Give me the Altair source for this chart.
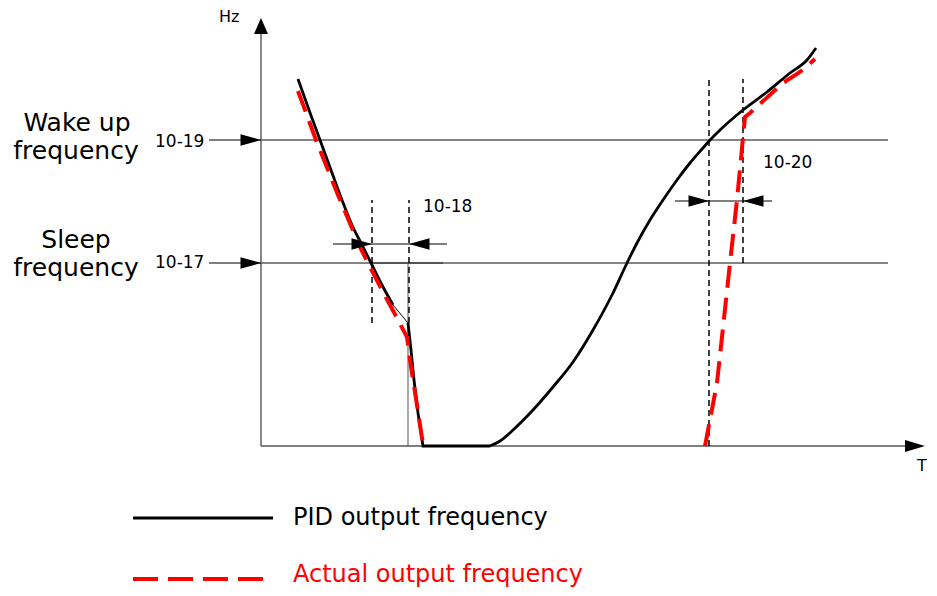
import altair as alt
import pandas as pd

# coordinate system: T along the time axis, Hz along the frequency axis (origin at axis crossing)
# PID output frequency (black)
pid_a_T = [37, 48, 59, 70, 81, 91, 101, 110, 121, 132]
pid_a_Hz = [367, 336, 306, 276, 246, 221, 201, 183, 161, 141]
pid_b_T = [132, 147]
pid_b_Hz = [141, 123]
pid_c_T = [147, 150, 153, 157, 162, 229]
pid_c_Hz = [123, 96, 66, 33, 0, 0]
pid_d_T = [229, 239, 252, 272, 292, 312, 332, 352, 366, 376, 389, 402, 416, 429, 442, 449, 459, 482, 506, 529, 546, 555]
pid_d_Hz = [0, 5, 16, 36, 59, 84, 116, 153, 183, 203, 226, 246, 266, 283, 298, 306, 316, 336, 354, 373, 386, 398]

# Actual output frequency (red dashed)
act_l_T = [37, 55, 77, 99, 107, 122, 136, 146, 150, 156, 161, 163]
act_l_Hz = [355, 306, 251, 199, 183, 154, 128, 109, 79, 41, 8, 0]
act_r_T = [444, 456, 469, 476, 484, 489, 522, 539, 554]
act_r_Hz = [0, 63, 183, 246, 329, 333, 363, 374, 387]

# levels
wake_hz = 306
sleep_hz = 183

# labels
side_labels = ["Wake up", "frequency", "Sleep", "frequency"]
side_T = [-184, -185, -185, -185]
side_Hz = [315, 287, 198, 170]
code_labels = ["10-19", "10-17", "10-18", "10-20"]
code_T = [-106, -106, 162, 502]
code_Hz = [299, 178, 234, 278]
legend_labels = ["PID output frequency", "Actual output frequency"]
legend_colors = ["black", "#ff0000"]

FONT = "DejaVu Sans"
xs = alt.Scale(domain=[-253, 668], nice=False, zero=False)
ys = alt.Scale(domain=[-142, 438], nice=False, zero=False)


def X(f="T"):
    return alt.X(f"{f}:Q", scale=xs, axis=None)


def Y(f="Hz"):
    return alt.Y(f"{f}:Q", scale=ys, axis=None)


def line_df(T, H):
    return pd.DataFrame({"T": T, "Hz": H, "i": range(len(T))})


layers = []

# grey level lines
hlev = pd.DataFrame({"T": [0, 0], "T2": [627, 627], "Hz": [wake_hz, sleep_hz]})
layers.append(alt.Chart(hlev).mark_rule(color="#858585", strokeWidth=2).encode(
    x=X(), x2="T2:Q", y=Y()))
# darker segment on sleep line
layers.append(alt.Chart(pd.DataFrame({"T": [111], "T2": [182], "Hz": [sleep_hz]})).mark_rule(
    color="#555555", strokeWidth=2.2).encode(x=X(), x2="T2:Q", y=Y()))

# axes
layers.append(alt.Chart(pd.DataFrame({"T": [0], "Hz": [0], "Hz2": [414]})).mark_rule(
    color="#555555", strokeWidth=1.4).encode(x=X(), y=Y(), y2="Hz2:Q"))
layers.append(alt.Chart(pd.DataFrame({"T": [0], "T2": [646], "Hz": [0]})).mark_rule(
    color="#555555", strokeWidth=1.4).encode(x=X(), x2="T2:Q", y=Y()))

# thin solid vertical under 10-18
layers.append(alt.Chart(pd.DataFrame({"T": [147], "Hz": [0], "Hz2": [sleep_hz]})).mark_rule(
    color="#555555", strokeWidth=1).encode(x=X(), y=Y(), y2="Hz2:Q"))

# marker and dimension lines (black thin)
hthin = pd.DataFrame({"T": [-52, -52, 72, 414], "T2": [0, 0, 186, 511],
                      "Hz": [wake_hz, sleep_hz, 202, 245]})
layers.append(alt.Chart(hthin).mark_rule(color="black", strokeWidth=1).encode(
    x=X(), x2="T2:Q", y=Y()))

# dashed verticals
vdash = pd.DataFrame({"T": [111, 148, 448, 482], "Hz": [123, 123, 0, sleep_hz],
                      "Hz2": [246, 246, 367, 367]})
layers.append(alt.Chart(vdash).mark_rule(color="black", strokeWidth=1.5, strokeDash=[6, 4]).encode(
    x=X(), y=Y(), y2="Hz2:Q"))

# PID curve
layers.append(alt.Chart(line_df(pid_a_T, pid_a_Hz)).mark_line(
    color="black", strokeWidth=2.8, interpolate="monotone").encode(x=X(), y=Y(), order="i:Q"))
layers.append(alt.Chart(line_df(pid_b_T, pid_b_Hz)).mark_line(color="black", strokeWidth=1).encode(
    x=X(), y=Y(), order="i:Q"))
layers.append(alt.Chart(line_df(pid_c_T, pid_c_Hz)).mark_line(color="black", strokeWidth=2.8).encode(
    x=X(), y=Y(), order="i:Q"))
layers.append(alt.Chart(line_df(pid_d_T, pid_d_Hz)).mark_line(
    color="black", strokeWidth=2.8, interpolate="monotone").encode(x=X(), y=Y(), order="i:Q"))

# Actual curve
for T, H in [(act_l_T, act_l_Hz), (act_r_T, act_r_Hz)]:
    layers.append(alt.Chart(line_df(T, H)).mark_line(
        color="#ff0000", strokeWidth=4, strokeDash=[22, 10]).encode(x=X(), y=Y(), order="i:Q"))

# arrowheads (tip at data point)
right_path = "M0,0L-2,-0.55L-2,0.55Z"
left_path = "M0,0L2,-0.55L2,0.55Z"
up_path = "M0,0L0.875,2L-0.875,2Z"
ar_r = pd.DataFrame({"T": [0, 0, 111, 448], "Hz": [wake_hz, sleep_hz, 202, 245]})
ar_l = pd.DataFrame({"T": [148, 482], "Hz": [202, 245]})
layers.append(alt.Chart(ar_r).mark_point(shape=right_path, size=420, filled=True, color="black",
                                          opacity=1, strokeWidth=0).encode(x=X(), y=Y()))
layers.append(alt.Chart(ar_l).mark_point(shape=left_path, size=420, filled=True, color="black",
                                          opacity=1, strokeWidth=0).encode(x=X(), y=Y()))
layers.append(alt.Chart(pd.DataFrame({"T": [664], "Hz": [0]})).mark_point(
    shape="M0,0L-2,-0.6L-2,0.6Z", size=400, filled=True, color="black", opacity=1,
    strokeWidth=0).encode(x=X(), y=Y()))
layers.append(alt.Chart(pd.DataFrame({"T": [0], "Hz": [428]})).mark_point(
    shape=up_path, size=256, filled=True, color="black", opacity=1,
    strokeWidth=0).encode(x=X(), y=Y()))

# side labels
layers.append(alt.Chart(pd.DataFrame({"T": side_T, "Hz": side_Hz, "t": side_labels})).mark_text(
    font=FONT, fontSize=25, align="center", baseline="alphabetic", color="black").encode(
    x=X(), y=Y(), text="t:N"))
layers.append(alt.Chart(pd.DataFrame({"T": code_T, "Hz": code_Hz, "t": code_labels})).mark_text(
    font=FONT, fontSize=17, align="left", baseline="alphabetic", color="black").encode(
    x=X(), y=Y(), text="t:N"))
layers.append(alt.Chart(pd.DataFrame({"T": [-42, 656], "Hz": [424, -25], "t": ["Hz", "T"]})).mark_text(
    font=FONT, fontSize=16, align="left", baseline="alphabetic", color="black").encode(
    x=X(), y=Y(), text="t:N"))

# legend
layers.append(alt.Chart(pd.DataFrame({"T": [-128], "T2": [12], "Hz": [-72]})).mark_rule(
    color="black", strokeWidth=2.8).encode(x=X(), x2="T2:Q", y=Y()))
layers.append(alt.Chart(pd.DataFrame({"T": [-128], "T2": [2], "Hz": [-133]})).mark_rule(
    color="#ff0000", strokeWidth=4, strokeDash=[25, 10]).encode(x=X(), x2="T2:Q", y=Y()))
leg = pd.DataFrame({"T": [32, 32], "Hz": [-79, -136], "t": legend_labels, "c": legend_colors})
layers.append(alt.Chart(leg).mark_text(font=FONT, fontSize=24, align="left", baseline="alphabetic").encode(
    x=X(), y=Y(), text="t:N", color=alt.Color("c:N", scale=None)))

chart = alt.layer(*layers).properties(
    width=921, height=580, autosize=alt.AutoSizeParams(type="none"), padding=0
).configure_view(stroke=None)

chart.save("out.html", embed_options={"renderer": "svg", "actions": False})
